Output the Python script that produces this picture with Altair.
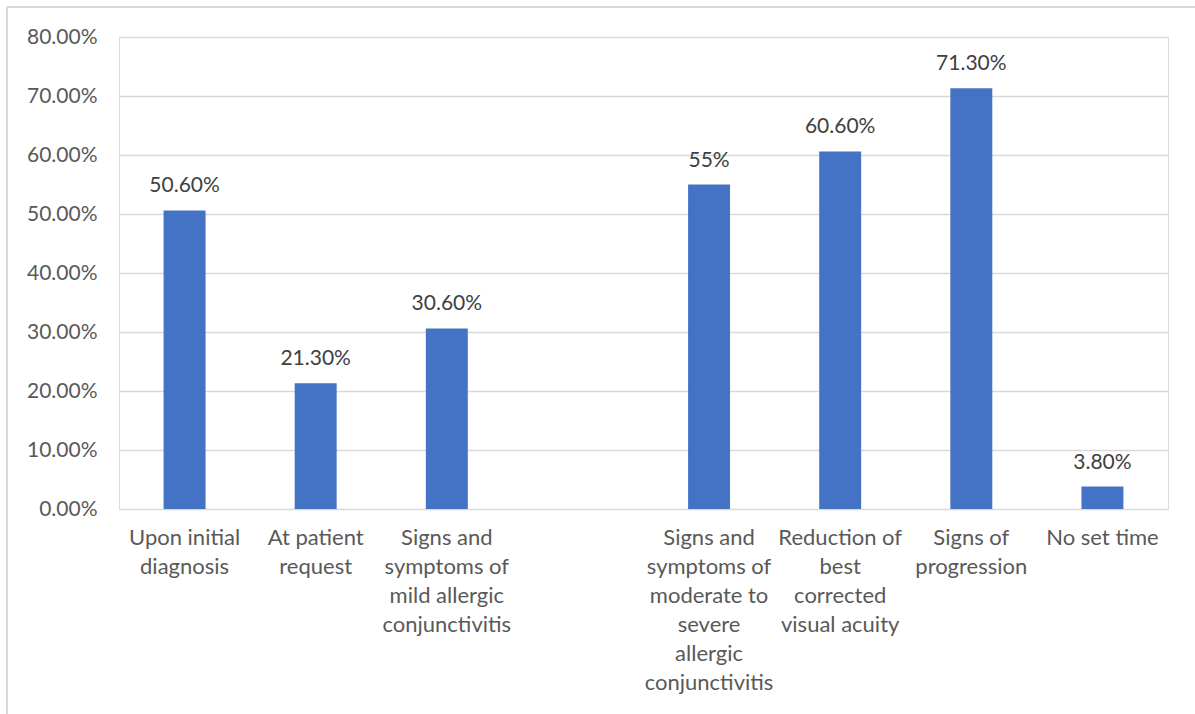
import altair as alt
import pandas as pd

# Survey responses: when treatment is escalated
categories = [
    "Upon initial|diagnosis",
    "At patient|request",
    "Signs and|symptoms of|mild allergic|conjunctivitis",
    " ",
    "Signs and|symptoms of|moderate to|severe|allergic|conjunctivitis",
    "Reduction of|best|corrected|visual acuity",
    "Signs of|progression",
    "No set time",
]
values = [0.506, 0.213, 0.306, None, 0.55, 0.606, 0.713, 0.038]
value_labels = ["50.60%", "21.30%", "30.60%", "", "55%", "60.60%", "71.30%", "3.80%"]

df = pd.DataFrame({"category": categories, "value": values, "label": value_labels})

FONT = "Lato"
W, H = 1049, 472

x = alt.X(
    "category:N",
    sort=categories,
    scale=alt.Scale(paddingInner=0.68, paddingOuter=0.34),
    axis=alt.Axis(
        title=None,
        labelAngle=0,
        labelExpr="split(datum.label, '|')",
        labelFont=FONT,
        labelFontSize=22,
        labelColor="#595959",
        labelLineHeight=29,
        labelPadding=18,
        labelBaseline="top",
        ticks=False,
        domain=False,
        labelLimit=200,
    ),
)

y_scale = alt.Scale(domain=[0, 0.8], nice=False)

bars = alt.Chart(df).mark_bar(color="#4472C4").encode(
    x=x,
    y=alt.Y(
        "value:Q",
        scale=y_scale,
        axis=alt.Axis(
            title=None,
            format=".2%",
            values=[0, 0.1, 0.2, 0.3, 0.4, 0.5, 0.6, 0.7, 0.8],
            labelFont=FONT,
            labelFontSize=21,
            labelColor="#595959",
            labelPadding=22,
            ticks=False,
            domain=False,
            grid=True,
            gridColor="#D9D9D9",
            gridWidth=1.3,
        ),
    ),
)

text = alt.Chart(df).mark_text(
    font=FONT, fontSize=21, color="#404040", baseline="alphabetic", dy=-18
).encode(
    x=alt.X("category:N", sort=categories),
    y=alt.Y("value:Q", scale=y_scale),
    text="label:N",
)

# Outer frame lines (top and left edges of the chart box)
frame_top = alt.Chart(df).mark_rule(color="#D9D9D9", strokeWidth=1.3).encode(
    x=alt.value(-112), x2=alt.value(W + 30), y=alt.value(-30)
)
frame_left = alt.Chart(df).mark_rule(color="#D9D9D9", strokeWidth=1.3).encode(
    x=alt.value(-112), y=alt.value(-30), y2=alt.value(H + 220)
)

chart = (
    alt.layer(bars, text, frame_top, frame_left)
    .properties(
        width=W,
        height=H,
        autosize=alt.AutoSizeParams(type="none"),
        padding={"left": 119, "top": 37, "right": 27, "bottom": 205},
    )
    .configure_view(stroke=None)
    .configure(background="white")
)

chart.save("out.html", embed_options={"renderer": "svg", "actions": False})
